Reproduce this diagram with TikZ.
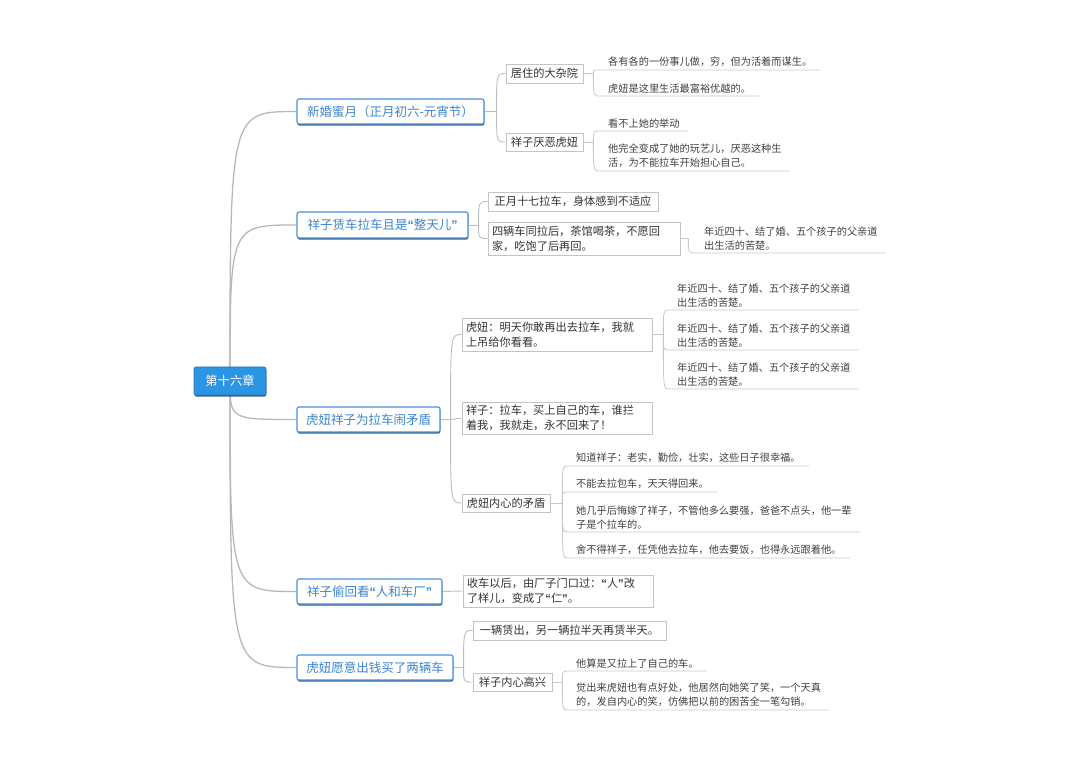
\documentclass[tikz,border=0pt]{standalone}
\usepackage{fontspec}
\setmainfont{Noto Sans CJK SC}
\newfontfamily\qfont{Liberation Sans}
\newcommand{\myoq}{{\qfont\bfseries “}}
\newcommand{\mycq}{{\qfont\bfseries ”}}
\usetikzlibrary{shadows}
\definecolor{rootblue}{HTML}{2B95E3}
\definecolor{rootedge}{HTML}{1F78C0}
\definecolor{lone}{HTML}{4A90D9}
\definecolor{lonetext}{HTML}{3D85CC}
\definecolor{shade}{HTML}{2F4F6F}
\definecolor{ltwoedge}{HTML}{C4C4C4}
\definecolor{ltwotext}{HTML}{333333}
\definecolor{lthreetext}{HTML}{404040}
\definecolor{rootln}{HTML}{B8B8B8}
\definecolor{branchln}{HTML}{BDBDBD}
\definecolor{leafln}{HTML}{C8C8C8}
\pgfdeclarelayer{bg}
\pgfsetlayers{bg,main}
\begin{document}
\begin{tikzpicture}[x=1pt,y=-1pt,
  rootbox/.style={draw=rootedge, line width=0.6pt, fill=rootblue, text=white, rounded corners=2pt,
    font=\fontsize{12.3}{14}\selectfont, minimum width=72pt, minimum height=28pt, inner sep=0pt,
    drop shadow={shadow xshift=0.4pt, shadow yshift=-1.6pt, fill=shade, opacity=0.9}},
  lonebox/.style={draw=lone, line width=1.1pt, fill=white, text=lonetext, rounded corners=2pt,
    font=\fontsize{12.5}{15}\selectfont, inner sep=0pt, minimum height=25pt,
    drop shadow={shadow xshift=0.4pt, shadow yshift=-1.6pt, fill=shade, opacity=0.9}},
  ltwobox/.style={draw=ltwoedge, line width=0.7pt, fill=white, text=ltwotext,
    font=\fontsize{11.2}{15}\selectfont, inner xsep=4pt, inner ysep=0pt, minimum height=18pt},
  ltwomulti/.style={ltwobox, align=left, text width=#1},
  leaf/.style={text=lthreetext, font=\fontsize{10.2}{14}\selectfont, inner xsep=8pt, inner ysep=2.8pt,
    anchor=south west, align=left},
  rootline/.style={draw=rootln, line width=1.3pt},
  branchline/.style={draw=branchln, line width=0.9pt},
  leafline/.style={draw=leafln, line width=0.8pt}
]
\useasboundingbox (0,0) rectangle (1080,759);

% root
\node[rootbox] (root) at (230,381) {第十六章};

% level 1
\node[lonebox, minimum width=187pt] (n1) at (390.5,111.5) {新婚蜜月（正月初六-元宵节）};
\node[lonebox, minimum width=171pt, minimum height=26pt] (n2) at (382.5,225) {祥子赁车拉车且是\myoq 整天儿\mycq};
\node[lonebox, minimum width=143pt] (n3) at (368.5,419.5) {虎妞祥子为拉车闹矛盾};
\node[lonebox, minimum width=145pt] (n4) at (369.5,591.5) {祥子偷回看\myoq 人和车厂\mycq};
\node[lonebox, minimum width=156pt] (n5) at (375,667.5) {虎妞愿意出钱买了两辆车};

% level 2
\node[ltwobox, minimum width=77pt, minimum height=19pt] (a1) at (544.5,73.5) {居住的大杂院};
\node[ltwobox, minimum width=77pt] (a2) at (544.5,142) {祥子厌恶虎妞};
\node[ltwobox, minimum width=170pt, minimum height=19pt] (b1) at (573,201.5) {正月十七拉车，身体感到不适应};
\node[ltwomulti=184pt, minimum height=33pt] (b2) at (584,238.5) {四辆车同拉后，茶馆喝茶，不愿回\\家，吃饱了后再回。};
\node[ltwomulti=182pt, minimum height=33pt] (c1) at (557,334.5) {虎妞：明天你敢再出去拉车，我就\\上吊给你看看。};
\node[ltwomulti=182pt, minimum height=32pt] (c2) at (557,418) {祥子：拉车，买上自己的车，谁拦\\着我，我就走，永不回来了！};
\node[ltwobox, minimum width=88pt] (c3) at (506,503) {虎妞内心的矛盾};
\node[ltwomulti=182pt, minimum height=32pt] (d1) at (558,591) {收车以后，由厂子门口过：\myoq 人\mycq 改\\了样儿，变成了\myoq 仁\mycq 。};
\node[ltwobox, minimum width=193pt, minimum height=19pt] (e1) at (569.5,630.5) {一辆赁出，另一辆拉半天再赁半天。};
\node[ltwobox, minimum width=79pt] (e2) at (512.5,682) {祥子内心高兴};

% level 3
\node[leaf] (t1) at (600,70) {各有各的一份事儿做，穷，但为活着而谋生。};
\node[leaf] (t2) at (600,96) {虎妞是这里生活最富裕优越的。};
\node[leaf] (t3) at (600,131) {看不上她的举动};
\node[leaf] (t4) at (600,171) {他完全变成了她的玩艺儿，厌恶这种生\\活，为不能拉车开始担心自己。};
\node[leaf] (t5) at (696,253) {年近四十、结了婚、五个孩子的父亲道\\出生活的苦楚。};
\node[leaf] (t6) at (669,310) {年近四十、结了婚、五个孩子的父亲道\\出生活的苦楚。};
\node[leaf] (t7) at (669,350) {年近四十、结了婚、五个孩子的父亲道\\出生活的苦楚。};
\node[leaf] (t8) at (669,389) {年近四十、结了婚、五个孩子的父亲道\\出生活的苦楚。};
\node[leaf] (t9) at (568,466) {知道祥子：老实，勤俭，壮实，这些日子很幸福。};
\node[leaf] (t10) at (568,492) {不能去拉包车，天天得回来。};
\node[leaf] (t11) at (568,532) {她几乎后悔嫁了祥子，不管他多么要强，爸爸不点头，他一辈\\子是个拉车的。};
\node[leaf] (t12) at (568,558) {舍不得祥子，任凭他去拉车，他去要饭，也得永远跟着他。};
\node[leaf] (t13) at (568,671) {他算是又拉上了自己的车。};
\node[leaf] (t14) at (568,710) {觉出来虎妞也有点好处，他居然向她笑了笑，一个天真\\的，发自内心的笑，仿佛把以前的困苦全一笔勾销。};

\begin{pgfonlayer}{bg}
% root connectors
\foreach \n in {n1,n2,n3,n4,n5}
  \draw[rootline] (root.center) .. controls (root.center |- \n.west) .. (\n.west);

% level 1 -> level 2
\draw[branchline] (n1.east) -- ++(12,0) coordinate (s1);
\draw[branchline] (s1) .. controls (s1 |- a1.west) .. (a1.west);
\draw[branchline] (s1) .. controls (s1 |- a2.west) .. (a2.west);
\draw[branchline] (n2.east) -- ++(10,0) coordinate (s2);
\draw[branchline] (s2) .. controls (s2 |- b1.west) .. (b1.west);
\draw[branchline] (s2) .. controls (s2 |- b2.west) .. (b2.west);
\draw[branchline] (n3.east) -- ++(10,0) coordinate (s3);
\draw[branchline] (s3) .. controls (s3 |- c1.west) .. (c1.west);
\draw[branchline] (s3) -- (c2.west);
\draw[branchline] (s3) .. controls (s3 |- c3.west) .. (c3.west);
\draw[branchline] (n4.east) -- (d1.west);
\draw[branchline] (n5.east) -- ++(10,0) coordinate (s5);
\draw[branchline] (s5) .. controls (s5 |- e1.west) .. (e1.west);
\draw[branchline] (s5) .. controls (s5 |- e2.west) .. (e2.west);

% level 2 -> level 3
\draw[leafline] (a1.east) -- ++(10,0) coordinate (sa1);
\draw[leafline] (sa1) .. controls (sa1 |- t1.south west) .. (t1.south west) -- (t1.south east);
\draw[leafline] (sa1) .. controls (sa1 |- t2.south west) .. (t2.south west) -- (t2.south east);
\draw[leafline] (a2.east) -- ++(10,0) coordinate (sa2);
\draw[leafline] (sa2) .. controls (sa2 |- t3.south west) .. (t3.south west) -- (t3.south east);
\draw[leafline] (sa2) .. controls (sa2 |- t4.south west) .. (t4.south west) -- (t4.south east);
\draw[leafline] (b2.east) -- ++(8,0) coordinate (sb2);
\draw[leafline] (sb2) .. controls (sb2 |- t5.south west) .. (t5.south west) -- (t5.south east);
\draw[leafline] (c1.east) -- ++(11,0) coordinate (sc1);
\draw[leafline] (sc1) .. controls (sc1 |- t6.south west) .. (t6.south west) -- (t6.south east);
\draw[leafline] (sc1) .. controls (sc1 |- t7.south west) .. (t7.south west) -- (t7.south east);
\draw[leafline] (sc1) .. controls (sc1 |- t8.south west) .. (t8.south west) -- (t8.south east);
\draw[leafline] (c3.east) -- ++(12,0) coordinate (sc3);
\draw[leafline] (sc3) .. controls (sc3 |- t9.south west) .. (t9.south west) -- (t9.south east);
\draw[leafline] (sc3) .. controls (sc3 |- t10.south west) .. (t10.south west) -- (t10.south east);
\draw[leafline] (sc3) .. controls (sc3 |- t11.south west) .. (t11.south west) -- (t11.south east);
\draw[leafline] (sc3) .. controls (sc3 |- t12.south west) .. (t12.south west) -- (t12.south east);
\draw[leafline] (e2.east) -- ++(10,0) coordinate (se2);
\draw[leafline] (se2) .. controls (se2 |- t13.south west) .. (t13.south west) -- (t13.south east);
\draw[leafline] (se2) .. controls (se2 |- t14.south west) .. (t14.south west) -- (t14.south east);
\end{pgfonlayer}
\end{tikzpicture}
\end{document}
